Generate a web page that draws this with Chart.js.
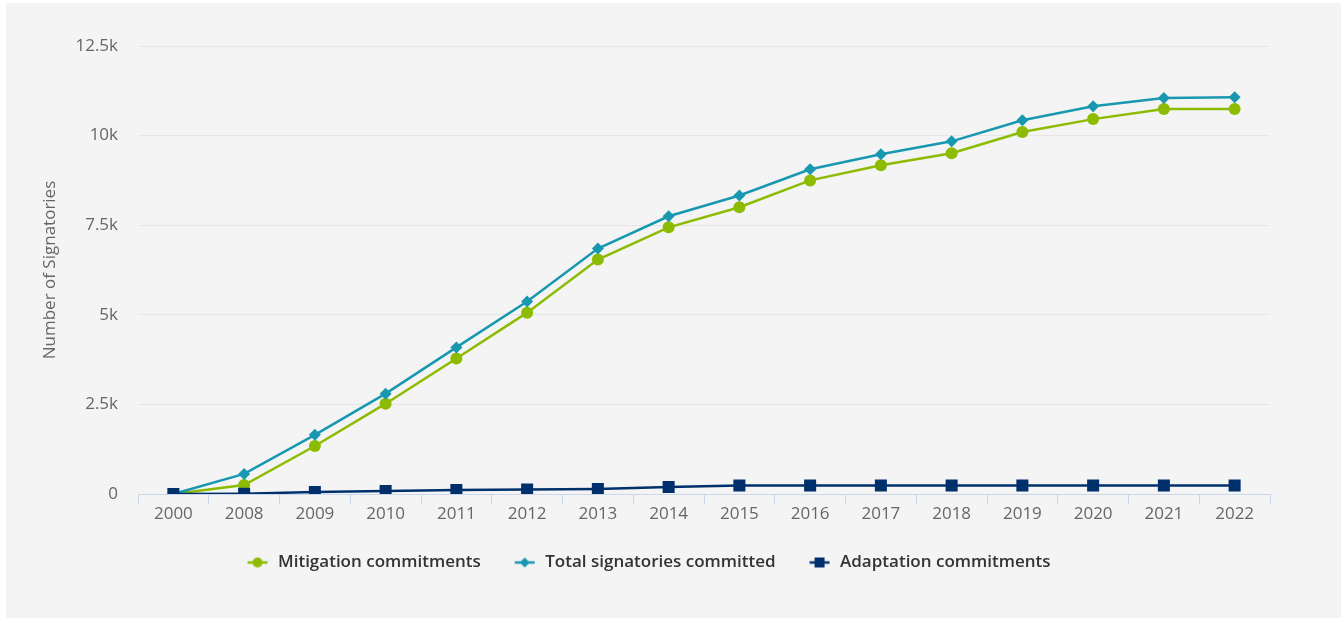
<!DOCTYPE html>
<html>
<head>
<meta charset="utf-8">
<script src="https://cdn.jsdelivr.net/npm/chart.js@4/dist/chart.umd.min.js"></script>
<style>
  html, body { margin: 0; padding: 0; background: #ffffff; }
  #wrap { position: absolute; left: 0; top: 0; width: 1343px; height: 621px; }
</style>
</head>
<body>
<div id="wrap"><canvas id="chart" width="1343" height="621"></canvas></div>
<script>
// Years on the category axis
const years = ['2000', '2008', '2009', '2010', '2011', '2012', '2013', '2014', '2015',
               '2016', '2017', '2018', '2019', '2020', '2021', '2022'];

// Cumulative signatories per year
const mitigation = [0, 250, 1340, 2520, 3780, 5060, 6540, 7440, 8000,
                    8750, 9170, 9510, 10100, 10460, 10740, 10740];
const totalCommitted = [0, 560, 1650, 2800, 4090, 5370, 6850, 7750, 8330,
                        9060, 9480, 9840, 10430, 10820, 11050, 11070];
const adaptation = [0, 10, 55, 85, 110, 125, 140, 195, 235,
                    240, 240, 240, 240, 240, 240, 240];

// Y axis tick values and their labels
const yTicks = [0, 2500, 5000, 7500, 10000, 12500];
const yTickLabels = ['0', '2.5k', '5k', '7.5k', '10k', '12.5k'];

const seriesNames = ['Mitigation commitments', 'Total signatories committed', 'Adaptation commitments'];
const colors = { green: '#8cbb00', teal: '#1898b0', navy: '#00306b' };

const FONT = '"Open Sans", "DejaVu Sans", sans-serif';

// Small "line with marker" symbols for the legend
function legendSymbol(color, shape) {
  const c = document.createElement('canvas');
  c.width = 22; c.height = 14;
  const g = c.getContext('2d');
  g.strokeStyle = color; g.lineWidth = 2.5;
  g.beginPath(); g.moveTo(1, 7); g.lineTo(21, 7); g.stroke();
  g.fillStyle = color;
  g.beginPath();
  if (shape === 'circle') { g.arc(11, 7, 5, 0, Math.PI * 2); }
  else if (shape === 'diamond') { g.moveTo(11, 2); g.lineTo(16, 7); g.lineTo(11, 12); g.lineTo(6, 7); g.closePath(); }
  else { g.rect(6, 2, 10, 10); }
  g.fill();
  return c;
}

// Grey panel behind the whole chart
const panelBackground = {
  id: 'panelBackground',
  beforeDraw(chart) {
    const ctx = chart.ctx;
    ctx.save();
    ctx.fillStyle = '#f4f4f4';
    ctx.fillRect(6, 3, 1335, 615);
    ctx.restore();
  }
};

// Nudge the legend row a little to the left so it sits centred under the panel
const legendShift = {
  id: 'legendShift',
  afterLayout(chart) {
    if (chart.legend) { chart.legend.left -= 7; chart.legend.right -= 7; }
  }
};

new Chart(document.getElementById('chart'), {
  type: 'line',
  data: {
    labels: years,
    datasets: [
      {
        label: seriesNames[0], data: mitigation, order: 3,
        borderColor: colors.green, backgroundColor: colors.green,
        borderWidth: 2.5, pointStyle: 'circle', pointRadius: 6, pointBorderWidth: 0,
        tension: 0
      },
      {
        label: seriesNames[1], data: totalCommitted, order: 2,
        borderColor: colors.teal, backgroundColor: colors.teal,
        borderWidth: 2.5, pointStyle: 'rectRot', pointRadius: 6, pointBorderWidth: 0,
        tension: 0
      },
      {
        label: seriesNames[2], data: adaptation, order: 1,
        borderColor: colors.navy, backgroundColor: colors.navy,
        borderWidth: 2.5, pointStyle: 'rect', pointRadius: 8.5, pointBorderWidth: 0,
        tension: 0
      }
    ]
  },
  options: {
    responsive: false,
    animation: false,
    events: [],
    layout: { padding: { left: 40, right: 73, top: 46, bottom: 40 } },
    plugins: {
      tooltip: { enabled: false },
      legend: {
        position: 'bottom',
        labels: {
          font: { family: FONT, size: 17, weight: '600' },
          color: '#333333',
          usePointStyle: true,
          pointStyleWidth: 24,
          padding: 32,
          generateLabels(chart) {
            const shapes = ['circle', 'diamond', 'square'];
            const cols = [colors.green, colors.teal, colors.navy];
            return chart.data.datasets.map((ds, i) => ({
              text: ds.label,
              pointStyle: legendSymbol(cols[i], shapes[i]),
              fillStyle: cols[i], strokeStyle: cols[i], lineWidth: 0,
              fontColor: '#333333', hidden: false, datasetIndex: i
            }));
          }
        }
      }
    },
    scales: {
      x: {
        offset: true,
        grid: {
          offset: true, drawOnChartArea: false, drawTicks: true,
          tickLength: 10, color: '#ccd6eb', lineWidth: 1
        },
        border: { display: true, color: '#ccd6eb', width: 1 },
        ticks: { color: '#666666', font: { family: FONT, size: 17 }, padding: 0, maxRotation: 0, autoSkip: false },
        afterFit(scale) { scale.height = 28; }
      },
      y: {
        min: 0, max: 12500,
        afterBuildTicks(scale) { scale.ticks = yTicks.map(v => ({ value: v })); },
        grid: { color: '#e6e6e6', drawTicks: false, lineWidth: 1 },
        border: { display: false },
        ticks: {
          color: '#666666', font: { family: FONT, size: 17 }, padding: 20,
          callback(value) { return yTickLabels[yTicks.indexOf(value)]; }
        },
        title: {
          display: true, text: 'Number of Signatories',
          color: '#666666', font: { family: FONT, size: 17 }, padding: 0
        },
        afterFit(scale) { scale.width = 98; }
      }
    }
  },
  plugins: [panelBackground, legendShift]
});
</script>
</body>
</html>
